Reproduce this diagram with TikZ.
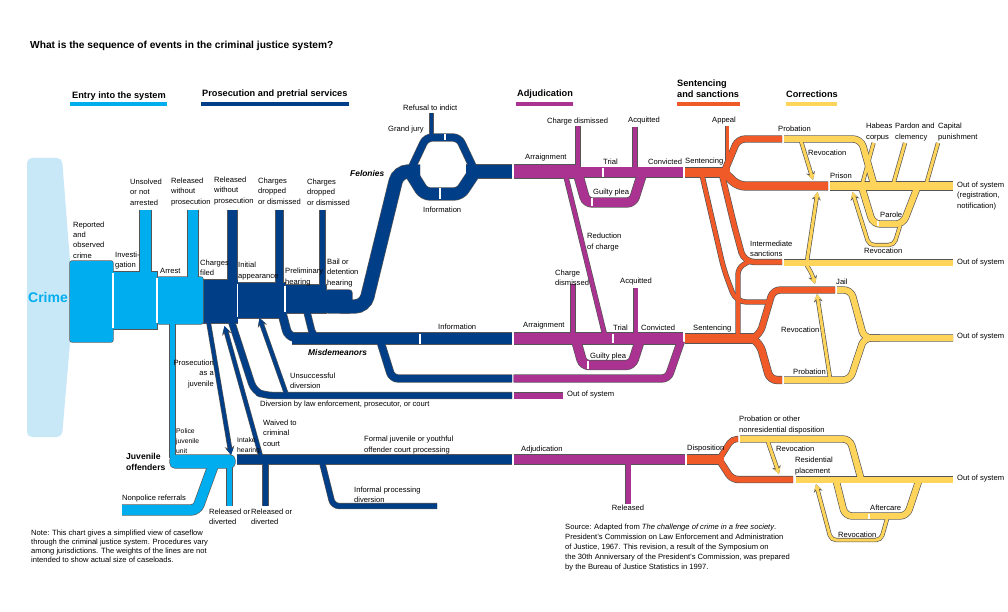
\documentclass[tikz,border=0pt]{standalone}
\usepackage{fontspec}
\setmainfont{Liberation Sans}
\usetikzlibrary{arrows.meta}
\definecolor{cjcyan}{RGB}{0,174,239}
\definecolor{cjpale}{RGB}{200,232,248}
\definecolor{cjnavy}{RGB}{0,63,135}
\definecolor{cjmag}{RGB}{170,50,145}
\definecolor{cjorange}{RGB}{240,90,40}
\definecolor{cjyellow}{RGB}{255,212,90}
\definecolor{cjedge}{RGB}{85,85,85}

\newcommand\lblfont{\fontsize{7.6}{10.3}\selectfont}
\newcommand\smallfont{\fontsize{6.8}{10}\selectfont}

\tikzset{
  lbl/.style={font=\lblfont, align=left, inner sep=0pt, anchor=west},
  hdr/.style={font=\fontsize{9.2}{11}\selectfont\bfseries, align=left, inner sep=0pt, anchor=west},
  hbar/.style={draw=#1, line width=4pt},
  sep/.style={draw=white, line width=1.3pt},
  % outlines are drawn in a first pass, colours in a second
  edgepass/.style={
    flow/.style 2 args={draw=cjedge, line width=##1+1.3},
    blk/.style={draw=cjedge, line width=1.3pt}},
  fillpass/.style={
    flow/.style 2 args={draw=##2, line width=##1},
    blk/.style={fill=##1, draw=none}},
  cy/.style={flow={#1}{cjcyan}},
  nv/.style={flow={#1}{cjnavy}},
  mg/.style={flow={#1}{cjmag}},
  og/.style={flow={#1}{cjorange}},
  yl/.style={flow={#1}{cjyellow}},
  tip/.style={-{Stealth[length=2pt 1.4, width=2pt 1.6]}},
}

\newcommand\cjflows{%
  % entry into the system
  \draw[blk=cjcyan, rounded corners=2pt] (70,261) rectangle (113,342);
  \draw[blk=cjcyan] (113,272) rectangle (157,329);
  \draw[blk=cjcyan, rounded corners=2pt] (157,277) rectangle (203,324);
  \draw[cy=11] (145.5,210) -- (145.5,274);
  \draw[cy=10] (193,210) -- (193,279);
  \draw[cy=5] (172.5,322) -- (172.5,458);
  \draw[blk=cjcyan, rounded corners=5pt] (170,455) rectangle (235,468);
  \draw[cy=10, rounded corners=6pt] (122,510) -- (197,510) -- (213,466);
  \draw[cy=5] (229.5,466) -- (229.5,506);
  % prosecution and pretrial services
  \draw[blk=cjnavy] (203.5,280) rectangle (237.5,323);
  \draw[blk=cjnavy] (237.5,283) rectangle (285,318);
  \draw[blk=cjnavy] (285,285) rectangle (326,313);
  \draw[blk=cjnavy, rounded corners=3pt] (325,290) rectangle (352,313);
  \draw[nv=9] (232.5,210) -- (232.5,282);
  \draw[nv=7] (279.5,210) -- (279.5,285);
  \draw[nv=5] (322.5,210) -- (322.5,292);
  % felonies
  \draw[nv=13, rounded corners=10pt] (340,306.5) -- (365,306.5) -- (398,171.5) -- (420,171.5);
  \draw[nv=7, rounded corners=6pt] (410,171.5) -- (426,137.5) -- (459,137.5) -- (475,171.5);
  \draw[nv=12, rounded corners=6pt] (410,171.5) -- (424,194) -- (460,194) -- (475,171.5);
  \draw[nv=13] (466,171.5) -- (512,171.5);
  \draw[nv=3] (431.5,113) -- (431.5,137);
  % misdemeanors
  \draw[nv=8, rounded corners=6pt] (282,313) -- (288,336) -- (300,338.5);
  \draw[nv=6, rounded corners=5pt] (307,312) -- (313,336) -- (322,338.5);
  \draw[nv=11] (292,338.5) -- (512,338.5);
  \draw[nv=7, rounded corners=6pt] (380,340) -- (392,378.5) -- (512,378.5);
  \draw[nv=6, rounded corners=8pt] (231,320) -- (254,391) -- (265,395.5) -- (512,395.5);
  \draw[nv=3.5, tip] (208.5,322) -- (231,455);
  \draw[nv=3.5, tip] (261,457) -- (224.5,326);
  \draw[nv=3.5, tip] (286,393) -- (259.5,318);
  % juveniles
  \draw[nv=9] (236.5,459.5) -- (512,459.5);
  \draw[nv=5] (265.5,462) -- (265.5,506);
  \draw[nv=5, rounded corners=6pt] (322,462) -- (333,506) -- (437,506);
  % adjudication
  \draw[mg=13] (513.5,171.5) -- (578,171.5);
  \draw[mg=4] (578,126) -- (578,168);
  \draw[mg=10] (577,172.5) -- (641,172.5);
  \draw[mg=4] (635,127) -- (635,169);
  \draw[mg=10] (638,172.5) -- (683,172.5);
  \draw[mg=9, rounded corners=6pt] (578,174) -- (586,202.5) -- (633,202.5) -- (642,174);
  \draw[mg=4] (566,177) -- (604.5,334);
  \draw[mg=11] (513.5,338.5) -- (683,338.5);
  \draw[mg=4] (573,284) -- (573,334);
  \draw[mg=4] (635.5,288) -- (635.5,334);
  \draw[mg=9, rounded corners=6pt] (576,340) -- (583,365) -- (632,365) -- (640,340);
  \draw[mg=7, rounded corners=6pt] (513.5,378.5) -- (668,378.5) -- (681,341);
  \draw[mg=6] (513.5,395.5) -- (563,395.5);
  \draw[mg=9] (513.5,459.5) -- (685,459.5);
  \draw[mg=5] (628,461) -- (628,504);
  % sentencing and sanctions
  \draw[og=9] (685,172.5) -- (730,172.5);
  \draw[og=3] (727,126) -- (727,169);
  \draw[og=6, rounded corners=7pt] (724,172.5) -- (738,139) -- (782,139);
  \draw[og=8, rounded corners=7pt] (724,172.5) -- (738,186) -- (828,186);
  \draw[og=5, rounded corners=10pt] (722,175) -- (734,225) -- (744,262) -- (782,262);
  \draw[og=4, rounded corners=10pt] (702,175) -- (724,270) -- (736,302) -- (772,302);
  \draw[og=9] (685,338.5) -- (757,338.5);
  \draw[og=4, rounded corners=6pt] (738,336) -- (738,268) -- (748,262);
  \draw[og=6, rounded corners=7pt] (752,338.5) -- (760,334) -- (773,290) -- (835,290);
  \draw[og=7, rounded corners=7pt] (752,338.5) -- (760,344) -- (770,380) -- (782,380);
  \draw[og=9] (686.5,459.5) -- (724,459.5);
  \draw[og=5, rounded corners=5pt] (719,459.5) -- (732,439) -- (738,439);
  \draw[og=6, rounded corners=6pt] (719,459.5) -- (732,479.5) -- (793,479.5);
  % corrections
  \draw[yl=6, rounded corners=8pt] (784,139) -- (861,139) -- (874,185);
  \draw[yl=8] (830,186) -- (953,186);
  \draw[yl=3] (873.5,143) -- (862,185);
  \draw[yl=3] (905,143) -- (893,185);
  \draw[yl=3] (938,143) -- (926,185);
  \draw[yl=6, rounded corners=7pt] (862,188) -- (873,224) -- (903,224) -- (917,188);
  \draw[yl=3, tip] (801,141) -- (813,180);
  \draw[yl=3, rounded corners=5pt, tip] (900,226) -- (894,245) -- (869,245) -- (852.5,192);
  \draw[yl=6] (784,262.5) -- (953,262.5);
  \draw[yl=3, tip] (807,261) -- (817.5,192);
  \draw[yl=3, rounded corners=4pt, tip] (806,264) -- (812,274) -- (815,284);
  \draw[yl=6, rounded corners=7pt] (837,290) -- (851,290) -- (864,338) -- (953,338);
  \draw[yl=6, rounded corners=7pt] (784,380) -- (850,380) -- (864,338) -- (880,338);
  \draw[yl=3, tip] (830,378) -- (817,294);
  \draw[yl=6, rounded corners=7pt] (740,439) -- (850,439) -- (861,479);
  \draw[yl=6] (795.5,479.5) -- (953,479.5);
  \draw[yl=3, tip] (768,442) -- (779,474);
  \draw[yl=6, rounded corners=7pt] (836,480) -- (845,516) -- (907,516) -- (919,480);
  \draw[yl=3, rounded corners=5pt, tip] (887,519) -- (881,540) -- (831,540) -- (816,484);
}

\begin{document}
\begin{tikzpicture}[x=1pt, y=-1pt]
  \useasboundingbox (0,0) rectangle (1008,612);

  % Title and stage headings
  \node[anchor=west, inner sep=0pt, font=\fontsize{10.2}{12}\selectfont\bfseries] (title) at (30,46) {What is the sequence of events in the criminal justice system?};
  \node[hdr] (hentry) at (72,96) {Entry into the system};
  \draw[hbar=cjcyan] (70,104.5) -- (167,104.5);
  \node[hdr] (hpros) at (202,94) {Prosecution and pretrial services};
  \draw[hbar=cjnavy] (201,104.5) -- (349,104.5);
  \node[hdr] (hadj) at (517,94) {Adjudication};
  \draw[hbar=cjmag] (516,104.5) -- (573,104.5);
  \node[hdr] (hsent) at (677,88.5) {Sentencing\\and sanctions};
  \draw[hbar=cjorange] (677,104.5) -- (740,104.5);
  \node[hdr] (hcorr) at (786,94) {Corrections};
  \draw[hbar=cjyellow] (786,104.5) -- (837,104.5);

  % Crime
  \fill[cjpale, rounded corners=5pt] (27,158) -- (27,437) -- (62,437) -- (70,343) -- (70,261) -- (62,158) -- cycle;
  \node[font=\fontsize{14}{14}\selectfont\bfseries, text=cjcyan, inner sep=0pt] (crime) at (48,297) {Crime};

  % Flows: outlines first, then colours
  \tikzset{edgepass}\cjflows
  \tikzset{fillpass}\cjflows

  % Separators
  \draw[sep] (113,272.7) -- (113,328.3);
  \draw[sep] (157,277.7) -- (157,323.3);
  \draw[sep] (237.5,283.7) -- (237.5,317.3);
  \draw[sep] (285,285.7) -- (285,312.3);
  \draw[sep] (445,134.5) -- (445,140.5);
  \draw[sep] (440,188.5) -- (440,199.5);
  \draw[sep] (420,333.5) -- (420,343.5);
  \draw[sep] (603,168) -- (603,177);
  \draw[sep] (592,198.5) -- (592,206.5);
  \draw[sep] (613,334) -- (613,343);
  \draw[sep] (588,361) -- (588,369);
  \draw[sep] (878,221.5) -- (878,226.5);
  \draw[sep] (869,513.5) -- (869,518.5);

  % Entry and pretrial labels
  \node[lbl] (unsolved) at (130,192) {Unsolved\\or not\\arrested};
  \node[lbl] (relpolice) at (171,192) {Released\\without\\prosecution};
  \node[lbl] (relpros) at (214,191) {Released\\without\\prosecution};
  \node[lbl] (dropa) at (258,191) {Charges\\dropped\\or dismissed};
  \node[lbl] (dropb) at (307,192) {Charges\\dropped\\or dismissed};
  \node[lbl] (reported) at (73,240) {Reported\\and\\observed\\crime};
  \node[lbl] (investigation) at (115,260.5) {Investi-\\gation};
  \node[lbl] (arrest) at (160,271) {Arrest};
  \node[lbl] (filed) at (200,268) {Charges\\filed};
  \node[lbl] (initial) at (238,271) {Initial\\appearance};
  \node[lbl] (prelim) at (285,277) {Preliminary\\hearing};
  \node[lbl] (bail) at (327,273) {Bail or\\detention\\hearing};

  % Felony labels
  \node[lbl, font=\fontsize{8.4}{10}\selectfont\bfseries\itshape] (felonies) at (350,173) {Felonies};
  \node[lbl] (grandjury) at (388,130) {Grand jury};
  \node[lbl] (refusal) at (403,108) {Refusal to indict};
  \node[lbl] (infofel) at (423,210) {Information};
  \node[lbl] (arrfel) at (525,158) {Arraignment};
  \node[lbl] (disfel) at (547,122) {Charge dismissed};
  \node[lbl] (acqfel) at (628,121) {Acquitted};
  \node[lbl] (trialfel) at (603,162) {Trial};
  \node[lbl] (convfel) at (648,162) {Convicted};
  \node[lbl] (pleafel) at (593,193) {Guilty plea};
  \node[lbl] (reduction) at (587,242) {Reduction\\of charge};
  \node[lbl] (sentfel) at (685,162) {Sentencing};
  \node[lbl] (appeal) at (712,121) {Appeal};
  \node[lbl] (probfel) at (778,129) {Probation};
  \node[lbl] (revprob) at (808,153) {Revocation};
  \node[lbl] (prison) at (830,176) {Prison};
  \node[lbl] (habeas) at (866,132) {Habeas\\corpus};
  \node[lbl] (pardon) at (895,132) {Pardon and\\clemency};
  \node[lbl] (capital) at (938,132) {Capital\\punishment};
  \node[lbl] (outreg) at (957,196) {Out of system\\(registration,\\notification)};
  \node[lbl] (parole) at (880,215) {Parole};
  \node[lbl] (revparole) at (864,251) {Revocation};
  \node[lbl] (intermediate) at (750,249) {Intermediate\\sanctions};
  \node[lbl] (outint) at (957,263) {Out of system};

  % Misdemeanor labels
  \node[lbl, font=\fontsize{8.4}{10}\selectfont\bfseries\itshape] (misdemeanors) at (308,352) {Misdemeanors};
  \node[lbl] (infomis) at (438,327) {Information};
  \node[lbl] (arrmis) at (523,326) {Arraignment};
  \node[lbl] (dismis) at (555,278) {Charge\\dismissed};
  \node[lbl] (acqmis) at (620,282) {Acquitted};
  \node[lbl] (trialmis) at (613,328) {Trial};
  \node[lbl] (convmis) at (641,328) {Convicted};
  \node[lbl] (pleamis) at (590,357) {Guilty plea};
  \node[lbl] (sentmis) at (693,329) {Sentencing};
  \node[lbl] (jail) at (836,282) {Jail};
  \node[lbl] (revjail) at (781,330) {Revocation};
  \node[lbl] (outmis) at (957,337) {Out of system};
  \node[lbl] (probmis) at (793,372) {Probation};
  \node[lbl] (unsuccessful) at (290,381) {Unsuccessful\\diversion};
  \node[lbl] (diversion) at (260,405) {Diversion by law enforcement, prosecutor, or court};
  \node[lbl] (outdiv) at (567,395) {Out of system};

  % Juvenile labels
  \node[lbl, anchor=east, align=right] (asjuvenile) at (214,374) {Prosecution\\as a\\juvenile};
  \node[lbl, font=\smallfont] (police) at (176,441) {Police\\juvenile\\unit};
  \node[lbl, font=\smallfont] (intake) at (237,446) {Intake\\hearing};
  \node[lbl] (waived) at (263,433) {Waived to\\criminal\\court};
  \node[lbl, font=\fontsize{8.6}{11}\selectfont\bfseries] (juvenile) at (126,461.5) {Juvenile\\offenders};
  \node[lbl] (nonpolice) at (122,499) {Nonpolice referrals};
  \node[lbl] (relja) at (209,517) {Released or\\diverted};
  \node[lbl] (reljb) at (251,517) {Released or\\diverted};
  \node[lbl] (formal) at (364,445) {Formal juvenile or youthful\\offender court processing};
  \node[lbl] (informal) at (354,495) {Informal processing\\diversion};
  \node[lbl] (adjjuv) at (521,450) {Adjudication};
  \node[lbl, anchor=center] (released) at (628,508) {Released};
  \node[lbl] (disposition) at (687,449) {Disposition};
  \node[lbl] (probjuv) at (739,425) {Probation or other\\nonresidential disposition};
  \node[lbl] (revjuv) at (776,449) {Revocation};
  \node[lbl] (residential) at (795,466) {Residential\\placement};
  \node[lbl] (outjuv) at (957,479) {Out of system};
  \node[lbl] (aftercare) at (870,508) {Aftercare};
  \node[lbl] (revafter) at (838,535) {Revocation};

  % Notes
  \node[lbl, font=\fontsize{7.6}{9}\selectfont] (note) at (31,546.5) {Note: This chart gives a simplified view of caseflow\\through the criminal justice system. Procedures vary\\among jurisdictions. The weights of the lines are not\\intended to show actual size of caseloads.};
  \node[lbl, font=\fontsize{7.6}{10}\selectfont] (source) at (565,548) {Source: Adapted from \textit{The challenge of crime in a free society}.\\President's Commission on Law Enforcement and Administration\\of Justice, 1967. This revision, a result of the Symposium on\\the 30th Anniversary of the President's Commission, was prepared\\by the Bureau of Justice Statistics in 1997.};
\end{tikzpicture}
\end{document}
